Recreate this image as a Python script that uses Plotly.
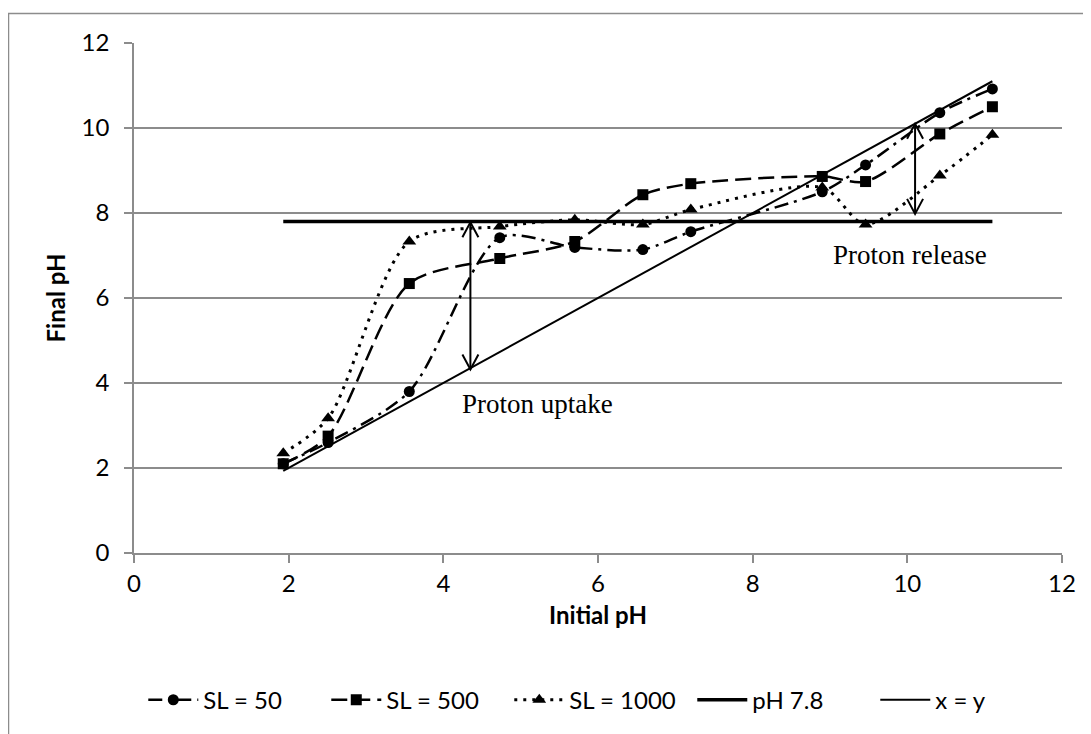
import plotly.graph_objects as go

# ---------------- data ----------------
initial_ph = [1.93, 2.51, 3.56, 4.73, 5.70, 6.58, 7.20, 8.90, 9.46, 10.42, 11.10]
sl50 = [2.10, 2.60, 3.80, 7.42, 7.19, 7.14, 7.56, 8.50, 9.13, 10.36, 10.92]
sl500 = [2.10, 2.75, 6.34, 6.93, 7.33, 8.43, 8.69, 8.86, 8.74, 9.86, 10.50]
sl1000 = [2.35, 3.17, 7.33, 7.68, 7.84, 7.73, 8.08, 8.60, 7.73, 8.88, 9.84]

ref_x = [1.93, 11.10]
ph78 = [7.8, 7.8]
xy_line = [1.93, 11.10]

x_ticks = [0, 2, 4, 6, 8, 10, 12]
y_ticks = [0, 2, 4, 6, 8, 10, 12]

# arrows: (x, y_low, y_high)
uptake_arrow = (4.35, 4.32, 7.78)
release_arrow = (10.10, 7.98, 10.10)
labels = [("Proton uptake", 5.22, 3.50), ("Proton release", 10.03, 7.02)]

FONT = "Lato, Calibri, Carlito, sans-serif"
GRID = "#8c8c8c"

fig = go.Figure()

fig.add_trace(go.Scatter(
    x=initial_ph, y=sl50, name="SL = 50", mode="lines+markers",
    line=dict(color="black", width=2.5, dash="14px,6px,3px,6px", shape="spline", smoothing=0.8),
    marker=dict(symbol="circle", size=11, color="black")))
fig.add_trace(go.Scatter(
    x=initial_ph, y=sl500, name="SL = 500", mode="lines+markers",
    line=dict(color="black", width=2.5, dash="16px,7px", shape="spline", smoothing=0.8),
    marker=dict(symbol="square", size=11, color="black")))
fig.add_trace(go.Scatter(
    x=initial_ph, y=sl1000, name="SL = 1000", mode="lines+markers",
    line=dict(color="black", width=3, dash="3px,6px", shape="spline", smoothing=0.8),
    marker=dict(symbol="triangle-up", size=12, color="black")))
fig.add_trace(go.Scatter(
    x=ref_x, y=ph78, name="pH 7.8", mode="lines",
    line=dict(color="black", width=3.5)))
fig.add_trace(go.Scatter(
    x=ref_x, y=xy_line, name="x = y", mode="lines",
    line=dict(color="black", width=2)))

# figure geometry (page has an 8px body margin, compensated here)
L, T = 126, 35
PW, PH = 928, 511
W, H = 1083, 726
R = W - L - PW
B = H - T - PH
px_per_x = PW / 12.0
px_per_y = PH / 12.0
hx = 8 / px_per_x
hy = 15 / px_per_y

shapes = []
for (ax, y0, y1) in (uptake_arrow, release_arrow):
    shapes.append(dict(type="line", xref="x", yref="y", x0=ax, x1=ax, y0=y0, y1=y1,
                       line=dict(color="black", width=2)))
    shapes.append(dict(type="path", xref="x", yref="y",
                       path=f"M {ax-hx},{y1-hy} L {ax},{y1} L {ax+hx},{y1-hy}",
                       line=dict(color="black", width=2)))
    shapes.append(dict(type="path", xref="x", yref="y",
                       path=f"M {ax-hx},{y0+hy} L {ax},{y0} L {ax+hx},{y0+hy}",
                       line=dict(color="black", width=2)))

# outer chart border (open on right and bottom, as in the reference)
shapes.append(dict(type="rect", xref="paper", yref="paper",
                   x0=(0.5 - L) / PW, x1=(W + 10 - L) / PW,
                   y0=(PH + T - (H + 10)) / PH, y1=(PH + T - 5.5) / PH,
                   line=dict(color="#8c8c8c", width=1.5), fillcolor="rgba(0,0,0,0)", layer="below"))

annotations = [dict(x=lx, y=ly, xref="x", yref="y", text=t, showarrow=False,
                    font=dict(family="Liberation Serif, Times New Roman, serif", size=27, color="black"))
               for (t, lx, ly) in labels]

fig.update_layout(
    width=W, height=H,
    margin=dict(l=L, r=R, t=T, b=B, pad=0),
    paper_bgcolor="white", plot_bgcolor="white",
    font=dict(family=FONT, size=24, color="black"),
    shapes=shapes, annotations=annotations,
    showlegend=True,
    legend=dict(orientation="h", x=0.01, xanchor="left", y=-0.286, yanchor="middle",
                font=dict(family=FONT, size=24, color="black"),
                itemwidth=50, entrywidth=118, entrywidthmode="pixels",
                tracegroupgap=0, bgcolor="rgba(0,0,0,0)"),
    xaxis=dict(range=[0, 12], tickvals=x_ticks, ticktext=[str(v) for v in x_ticks],
               showgrid=False, zeroline=False, showline=True, linecolor=GRID, linewidth=1.5,
               ticks="outside", ticklen=8, tickcolor=GRID, tickwidth=1.5,
               title=dict(text="<b>Initial pH</b>", font=dict(family=FONT, size=24), standoff=12),
               tickfont=dict(family=FONT, size=24)),
    yaxis=dict(range=[0, 12], tickvals=y_ticks, ticktext=[str(v) for v in y_ticks],
               showgrid=True, gridcolor=GRID, gridwidth=1.5, zeroline=False,
               showline=True, linecolor=GRID, linewidth=1.5,
               ticks="outside", ticklen=8, tickcolor=GRID, tickwidth=1.5,
               ticklabelstandoff=10,
               title=dict(text="<b>Final pH</b>", font=dict(family=FONT, size=24), standoff=9),
               tickfont=dict(family=FONT, size=24)),
)

fig.write_html("out.html")
